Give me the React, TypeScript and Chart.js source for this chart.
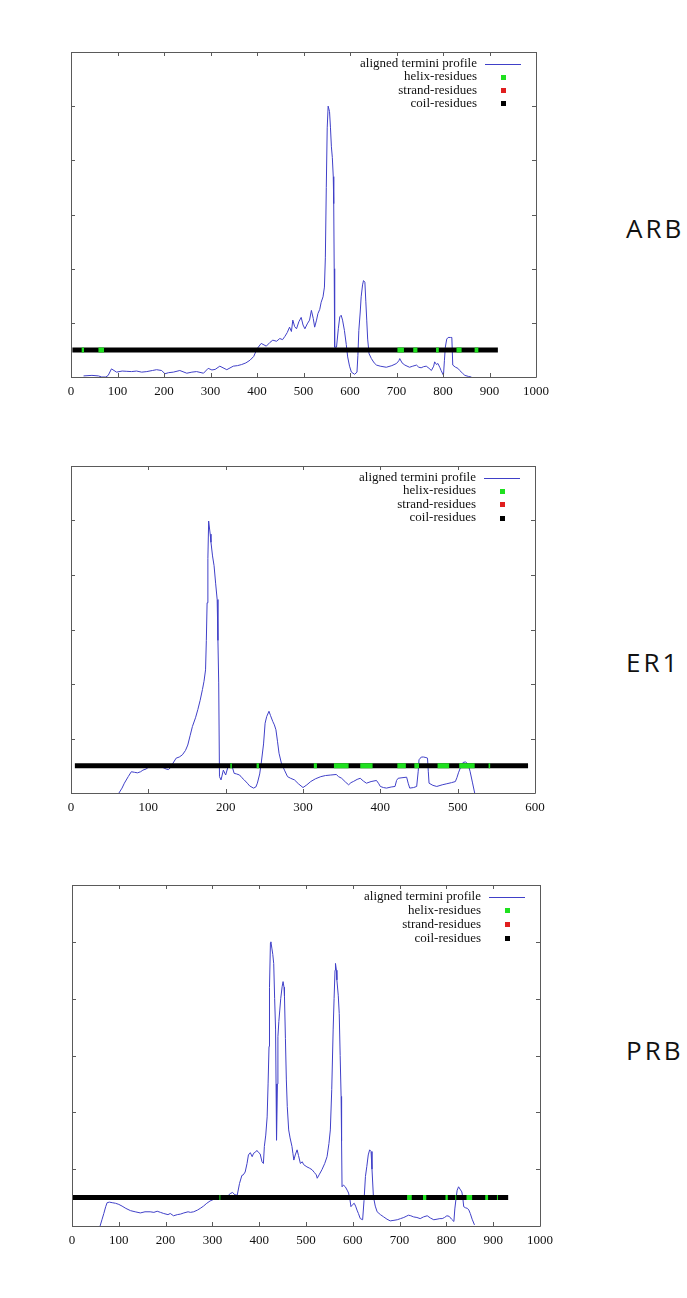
import React, { useEffect, useRef } from "react";
import { Chart, registerables } from "chart.js";

Chart.register(...registerables);

// ---------- shared ----------
const LEGEND_LABELS = ["aligned termini profile", "helix-residues", "strand-residues", "coil-residues"];
const Y_TICKS_MAX = 60;
const Y_STEP = 10;
const X_STEP = 100;
const BAR_LEVEL = 5;

const PROFILE_COLOR = "#4040c8";
const HELIX_COLOR = "#1fe01f";
const STRAND_COLOR = "#e01e1e";
const COIL_COLOR = "#000000";

// ---------- ARB ----------
const ARB_X_MAX = 1000;
const ARB_POS = [27, 45, 59, 66, 75, 80, 87, 98, 110, 120, 130, 141, 152, 163, 175, 184, 195, 202, 210, 220, 234, 249, 260, 270, 285, 295, 303, 310, 320, 335, 349, 358, 367, 376, 385, 393, 400, 409, 420, 428, 434, 442, 449, 455, 460, 465, 470, 474, 477, 481, 485, 490, 495, 499, 503, 508, 513, 517, 521, 524, 528, 531, 535, 538, 542, 545, 547, 549, 551, 553, 556, 558, 560, 562, 564, 565, 566, 567, 571, 575, 578, 581, 584, 588, 592, 595, 599, 603, 610, 615, 617, 619, 622, 624, 627, 629, 632, 634, 636, 638, 641, 646, 652, 657, 665, 678, 690, 700, 705, 707, 712, 718, 728, 735, 743, 748, 753, 758, 764, 770, 775, 780, 782, 786, 789, 793, 796, 801, 803, 805, 808, 811, 816, 819, 821, 827, 832, 836, 842, 847, 855, 861];
const ARB_VAL = [0.2, 0.3, 0.2, 0, 0, 0.3, 1.5, 0.9, 1.1, 1.05, 1.0, 1.1, 0.9, 1.0, 1.2, 1.35, 1.2, 0.6, 0.8, 0.9, 1.2, 0.7, 0.9, 1.0, 0.7, 1.6, 1.3, 1.4, 2.0, 1.35, 2.0, 2.1, 2.3, 2.6, 3.1, 3.8, 5.2, 6.2, 5.7, 6.4, 6.8, 6.6, 7.1, 6.9, 7.5, 8.2, 9.2, 8.4, 10.5, 9.3, 8.9, 10.2, 11.0, 9.6, 8.9, 9.8, 10.5, 12.3, 10.8, 9.2, 10.5, 11.7, 12.5, 13.8, 14.8, 16.6, 22, 35, 46, 50, 49, 46, 42.5, 40.5, 37, 32, 20, 5.5, 5.5, 9, 11.1, 11.4, 10.5, 8.6, 6, 3.7, 2, 0.9, 0.5, 0.9, 4, 8.6, 12, 14.8, 17, 17.8, 17.5, 14, 10.5, 7, 4.3, 3.4, 2.6, 2.2, 2.0, 1.8, 2.1, 2.5, 3.0, 3.4, 2.6, 2.2, 1.8, 2.0, 2.2, 1.8, 1.7, 1.9, 2.0, 1.6, 1.2, 2.0, 2.8, 2.3, 2.5, 1.8, 1.2, 0.3, 3, 5.5, 7.0, 7.3, 7.3, 7.3, 2.2, 1.8, 1.6, 1.2, 0.7, 0.3, 0.1, 0];
const ARB_COIL = [3, 918];
const ARB_HELIX_START = [23, 59, 702, 736, 785, 829, 868];
const ARB_HELIX_END = [28, 71, 716, 745, 791, 840, 876];

// ---------- ER1 ----------
const ER1_X_MAX = 600;
const ER1_POS = [62, 66, 69, 74, 78, 82, 86, 90, 93, 97, 101, 106, 112, 117, 123, 126, 129, 132, 136, 140, 144, 148, 151, 154, 157, 161, 164, 167, 170, 172, 174, 175, 176, 177, 178, 180, 181, 183, 185, 187, 189, 190, 191, 192, 194, 197, 200, 203, 207, 211, 214, 218, 221, 224, 228, 231, 236, 239, 241, 244, 246, 249, 251, 253, 256, 258, 261, 263, 265, 267, 269, 272, 276, 280, 284, 289, 294, 300, 305, 310, 316, 323, 329, 336, 343, 346, 350, 355, 359, 362, 365, 370, 374, 378, 382, 388, 395, 398, 400, 404, 408, 414, 419, 421, 423, 428, 434, 436, 438, 443, 447, 449, 450, 453, 456, 459, 461, 462, 463, 468, 473, 480, 486, 492, 497, 499, 501, 504, 507, 510, 512, 514, 516, 519, 522];
const ER1_VAL = [0, 0.9, 1.8, 3.0, 3.9, 3.8, 3.7, 3.9, 4.2, 4.4, 4.8, 4.9, 5.0, 4.8, 4.4, 4.3, 4.7, 5.5, 6.4, 6.6, 7.0, 7.8, 8.8, 10.5, 12.2, 13.8, 15.3, 17, 19.0, 20.5, 22.6, 28, 34.9, 43, 49.9, 47.5, 46, 43.5, 41.7, 38.5, 35.5, 28, 20.2, 3.0, 2.4, 4.2, 3.3, 4.8, 5.5, 3.6, 3.5, 3.3, 2.8, 2.4, 1.8, 1.3, 0.9, 1.1, 1.8, 3.5, 5.5, 9, 12.8, 14, 15.0, 14.2, 13.1, 12.5, 11.6, 9.5, 7.3, 5.5, 4.2, 3.0, 2.7, 2.4, 1.7, 1.0, 1.5, 2.1, 2.6, 3.0, 3.2, 3.3, 3.4, 3.0, 2.7, 2.0, 1.5, 1.9, 2.1, 2.5, 2.7, 2.2, 1.8, 2.1, 2.3, 1.7, 1.2, 1.0, 0.9, 1.1, 1.2, 2.3, 2.7, 2.8, 2.9, 1.8, 0.9, 1.0, 1.2, 4, 6.1, 6.6, 6.6, 6.5, 6.4, 4, 1.8, 1.4, 1.2, 1.5, 1.7, 1.9, 2.1, 2.8, 3.7, 4.8, 5.6, 5.7, 5.5, 5.0, 4.0, 2.0, 0];
const ER1_COIL = [5, 591];
const ER1_HELIX_START = [206, 240, 314, 340, 374, 422, 444, 474, 502, 540];
const ER1_HELIX_END = [208, 243, 318, 359, 390, 433, 450, 489, 522, 542];

// ---------- PRB ----------
const PRB_X_MAX = 1000;
const PRB_POS = [60, 64, 68, 72, 75, 80, 86, 93, 100, 107, 115, 125, 135, 146, 156, 167, 175, 182, 189, 196, 205, 210, 217, 225, 232, 239, 248, 253, 260, 268, 274, 281, 288, 295, 303, 310, 317, 322, 328, 333, 338, 343, 348, 353, 358, 363, 366, 370, 374, 377, 381, 385, 388, 392, 395, 399, 402, 406, 409, 411, 414, 417, 419, 421, 422, 424, 425, 427, 429, 431, 433, 435, 436, 437, 439, 440, 442, 444, 446, 449, 451, 453, 454, 456, 458, 460, 463, 466, 470, 472, 474, 477, 481, 484, 488, 492, 495, 502, 507, 513, 518, 522, 524, 528, 534, 540, 545, 549, 552, 555, 558, 560, 562, 563, 565, 566, 569, 571, 573, 575, 576, 577, 580, 584, 588, 591, 594, 596, 600, 603, 606, 609, 612, 616, 621, 624, 627, 630, 633, 636, 639, 641, 644, 648, 652, 659, 666, 673, 680, 688, 695, 702, 709, 714, 719, 724, 730, 737, 744, 751, 759, 766, 773, 780, 786, 791, 796, 801, 806, 811, 816, 818, 821, 823, 826, 829, 833, 835, 837, 841, 845, 848, 851, 855, 860];
const PRB_VAL = [0, 1.1, 2.2, 3.4, 4.1, 4.2, 4.1, 4.0, 3.8, 3.5, 3.1, 2.7, 2.5, 2.3, 2.5, 2.5, 2.4, 2.6, 2.4, 2.2, 2.0, 2.2, 1.8, 2.0, 2.1, 2.3, 2.5, 2.4, 2.5, 2.8, 3.1, 3.5, 4.0, 4.4, 4.7, 4.9, 5.1, 4.9, 4.7, 5.3, 5.7, 5.9, 5.5, 5.4, 7.5, 8.9, 9.0, 9.5, 11, 12.5, 12.9, 12.2, 12.8, 13.0, 13.3, 12.9, 12.7, 11.3, 11.0, 14.0, 16, 19.2, 25, 31.6, 42, 49.8, 50, 48.9, 47.8, 46.2, 40, 34.5, 25, 15.1, 25, 33.3, 36, 38.0, 40, 42.1, 43.0, 42, 40.4, 33, 25.7, 21, 16.9, 15.5, 14.0, 12.8, 11.6, 12.5, 13.4, 12.4, 11.0, 11.3, 10.8, 10.4, 10.2, 9.9, 9.4, 9.0, 8.4, 9.0, 9.9, 11.0, 12.2, 14.5, 16.9, 24, 34.5, 40, 45, 46.2, 45, 43.3, 40.5, 37.4, 30, 22.8, 15, 6.9, 7.2, 6.9, 6.3, 5.8, 4.6, 3.4, 3.8, 4.0, 3.5, 2.8, 2.2, 1.3, 1.1, 4.5, 8.7, 10.5, 12.5, 13.4, 13.1, 10, 5.2, 3.5, 2.5, 2.0, 1.6, 1.2, 0.9, 1.0, 1.1, 1.3, 1.5, 1.7, 1.9, 1.8, 1.6, 1.5, 1.3, 1.6, 1.8, 1.4, 1.1, 1.2, 1.3, 1.3, 1.5, 1.8, 1.7, 1.2, 0.8, 3, 5.1, 6.3, 6.9, 6.5, 6.0, 5.0, 3.4, 3.2, 3.1, 2.8, 2.2, 1.2, 0.2];
const PRB_COIL = [2, 932];
const PRB_HELIX_START = [315, 716, 750, 798, 819, 843, 883, 908];
const PRB_HELIX_END = [317, 726, 757, 803, 821, 855, 889, 910];

type PanelSpec = {
  name: string;
  xMax: number;
  pos: number[];
  val: number[];
  coil: number[];
  helixStart: number[];
  helixEnd: number[];
  plotTop: number;
  plotBottom: number;
  plotLeft: number;
  plotRight: number;
  labelTop: number;
};

const CANVAS_W = 560;
const PAD_TOP = 12;
const X_AXIS_H = 30;

const PANELS: PanelSpec[] = [
  { name: "ARB", xMax: ARB_X_MAX, pos: ARB_POS, val: ARB_VAL, coil: ARB_COIL, helixStart: ARB_HELIX_START, helixEnd: ARB_HELIX_END, plotTop: 52, plotBottom: 377, plotLeft: 71, plotRight: 536, labelTop: 228 },
  { name: "ER1", xMax: ER1_X_MAX, pos: ER1_POS, val: ER1_VAL, coil: ER1_COIL, helixStart: ER1_HELIX_START, helixEnd: ER1_HELIX_END, plotTop: 466, plotBottom: 793, plotLeft: 71, plotRight: 535, labelTop: 662 },
  { name: "PRB", xMax: PRB_X_MAX, pos: PRB_POS, val: PRB_VAL, coil: PRB_COIL, helixStart: PRB_HELIX_START, helixEnd: PRB_HELIX_END, plotTop: 885, plotBottom: 1226, plotLeft: 72, plotRight: 540, labelTop: 1050 },
];

const framePlugin = {
  id: "gnuplotFrame",
  afterDraw(chart: any) {
    const { ctx, chartArea } = chart;
    const { left, right, top, bottom } = chartArea;
    const xs = chart.scales.x;
    const ys = chart.scales.y;
    const TL = 4;
    ctx.save();
    ctx.strokeStyle = "#5a5a5a";
    ctx.lineWidth = 1;
    ctx.beginPath();
    ctx.rect(Math.round(left) + 0.5, Math.round(top) + 0.5, Math.round(right - left), Math.round(bottom - top));
    ctx.stroke();
    ctx.beginPath();
    xs.ticks.forEach((t: any) => {
      const px = Math.round(xs.getPixelForValue(t.value)) + 0.5;
      ctx.moveTo(px, bottom);
      ctx.lineTo(px, bottom - TL);
      ctx.moveTo(px, top);
      ctx.lineTo(px, top + TL);
    });
    ys.ticks.forEach((t: any) => {
      const py = Math.round(ys.getPixelForValue(t.value)) + 0.5;
      ctx.moveTo(left, py);
      ctx.lineTo(left + TL, py);
      ctx.moveTo(right, py);
      ctx.lineTo(right - TL, py);
    });
    ctx.stroke();

    // legend inside the plot, top right
    const textRight = right - 59;
    const lineL = right - 51;
    const lineR = right - 15;
    const sqX = right - 33;
    const step = (bottom - top) / 24.4;
    ctx.font = '13px "Liberation Serif", "Times New Roman", serif';
    ctx.textAlign = "right";
    ctx.textBaseline = "middle";
    const colors = [PROFILE_COLOR, HELIX_COLOR, STRAND_COLOR, COIL_COLOR];
    LEGEND_LABELS.forEach((lab, i) => {
      const y = top + 11.5 + step * i;
      ctx.fillStyle = "#111";
      ctx.fillText(lab, textRight, y);
      if (i === 0) {
        ctx.strokeStyle = PROFILE_COLOR;
        ctx.lineWidth = 1;
        ctx.beginPath();
        ctx.moveTo(lineL, Math.round(y) + 0.5);
        ctx.lineTo(lineR, Math.round(y) + 0.5);
        ctx.stroke();
      } else {
        ctx.fillStyle = colors[i];
        ctx.fillRect(sqX - 2, Math.round(y) - 2, 5, 5);
      }
    });
    ctx.restore();
  },
};

function Panel({ spec }: { spec: PanelSpec }) {
  const ref = useRef<HTMLCanvasElement>(null);
  const canvasTop = spec.plotTop - PAD_TOP;
  const canvasH = spec.plotBottom - canvasTop + X_AXIS_H;

  useEffect(() => {
    if (!ref.current) return;
    const profile = spec.pos.map((x, i) => ({ x, y: spec.val[i] }));
    const coil = [
      { x: spec.coil[0], y: BAR_LEVEL },
      { x: spec.coil[1], y: BAR_LEVEL },
    ];
    const helix: { x: number; y: number | null }[] = [];
    spec.helixStart.forEach((s, i) => {
      helix.push({ x: s, y: BAR_LEVEL });
      helix.push({ x: spec.helixEnd[i], y: BAR_LEVEL });
      helix.push({ x: spec.helixEnd[i], y: null });
    });

    const chart = new Chart(ref.current, {
      type: "line",
      data: {
        datasets: [
          { label: "helix-residues", data: helix, borderColor: HELIX_COLOR, borderWidth: 5, borderCapStyle: "butt", pointRadius: 0, spanGaps: false, tension: 0 } as any,
          { label: "coil-residues", data: coil, borderColor: COIL_COLOR, borderWidth: 5, borderCapStyle: "butt", pointRadius: 0, tension: 0 } as any,
          { label: "strand-residues", data: [], borderColor: STRAND_COLOR, borderWidth: 5, pointRadius: 0 } as any,
          { label: "aligned termini profile", data: profile, borderColor: PROFILE_COLOR, borderWidth: 1, pointRadius: 0, tension: 0 } as any,
        ],
      },
      options: {
        responsive: false,
        animation: false,
        devicePixelRatio: 1,
        layout: { padding: { top: PAD_TOP, right: CANVAS_W - spec.plotRight, left: 0, bottom: 0 } },
        plugins: { legend: { display: false }, tooltip: { enabled: false } },
        elements: { point: { radius: 0 } },
        scales: {
          x: {
            type: "linear",
            min: 0,
            max: spec.xMax,
            ticks: {
              stepSize: X_STEP,
              autoSkip: false,
              maxRotation: 0,
              padding: 7,
              color: "#111",
              font: { family: '"Liberation Serif", "Times New Roman", serif', size: 13 },
              callback: (v: any) => String(v),
            },
            grid: { display: false, drawTicks: false },
            border: { display: false },
            afterFit: (s: any) => {
              s.height = X_AXIS_H;
            },
          },
          y: {
            type: "linear",
            min: 0,
            max: Y_TICKS_MAX,
            ticks: { stepSize: Y_STEP, display: false },
            grid: { display: false, drawTicks: false },
            border: { display: false },
            afterFit: (s: any) => {
              s.width = spec.plotLeft;
            },
          },
        },
      } as any,
      plugins: [framePlugin],
    });
    return () => chart.destroy();
  }, [spec]);

  return (
    <>
      <canvas
        ref={ref}
        width={CANVAS_W}
        height={canvasH}
        style={{ position: "absolute", left: 0, top: canvasTop, width: CANVAS_W, height: canvasH }}
      />
      <div
        style={{
          position: "absolute",
          left: 626,
          top: spec.labelTop - 16,
          height: 32,
          lineHeight: "32px",
          fontFamily: '"Open Sans", "Noto Sans", sans-serif',
          fontSize: 26,
          letterSpacing: 3,
          color: "#111",
          whiteSpace: "nowrap",
        }}
      >
        {spec.name}
      </div>
    </>
  );
}

export default function App() {
  return (
    <div style={{ position: "absolute", left: 0, top: 0, width: 687, height: 1298, background: "#fff", overflow: "hidden" }}>
      {PANELS.map((p) => (
        <Panel key={p.name} spec={p} />
      ))}
    </div>
  );
}
